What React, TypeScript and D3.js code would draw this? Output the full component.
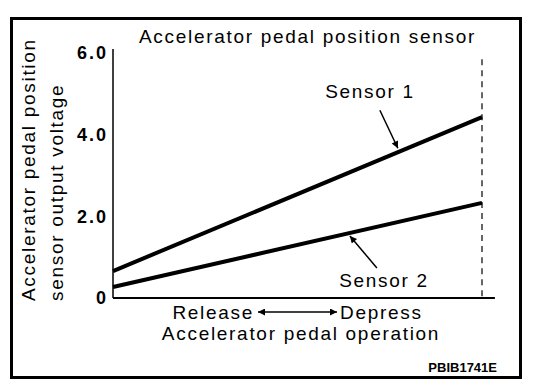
import React from "react";
import * as d3 from "d3";

// pedal travel: 0 = released, 1 = fully depressed
const pedalTravel = [0, 1];
const sensor1Volts = [0.66, 4.43];
const sensor2Volts = [0.27, 2.33];
const yTickValues = [0, 2, 4, 6];
const yTickLabels = ["0", "2.0", "4.0", "6.0"];

const W = 560;
const H = 388;
const FONT = "'Liberation Sans', Arial, Helvetica, sans-serif";

export default function App() {
  const x = d3.scaleLinear().domain([0, 1]).range([113, 482]);
  const y = d3.scaleLinear().domain([0, 6]).range([298, 53]);

  const line = d3
    .line<number>()
    .x((_, i) => x(pedalTravel[i]))
    .y((d) => y(d));

  // point on a series at a given pedal travel
  const at = (vals: number[], t: number) => {
    const v = vals[0] + (vals[1] - vals[0]) * t;
    return [x(t), y(v)];
  };

  const s1tip = at(sensor1Volts, 0.772);
  const s2tip = at(sensor2Volts, 0.642);

  return (
    <svg
      width={W}
      height={H}
      style={{ position: "absolute", left: 0, top: 0, background: "#fff" }}
      fontFamily={FONT}
    >
      <defs>
        <marker
          id="head"
          viewBox="0 0 10 10"
          refX="10"
          refY="5"
          markerWidth="10"
          markerHeight="7"
          markerUnits="userSpaceOnUse"
          orient="auto-start-reverse"
        >
          <path d="M0,0 L10,5 L0,10 z" fill="#000" />
        </marker>
      </defs>

      <rect x={11.5} y={18.5} width={509} height={359} fill="none" stroke="#000" strokeWidth={3} />

      <text x={139} y={43} fontSize={19} letterSpacing={1.7} fill="#000">
        Accelerator pedal position sensor
      </text>

      {/* axes */}
      <line x1={x(0)} x2={x(0)} y1={y(6.1)} y2={y(0)} stroke="#000" strokeWidth={1.5} />
      <line x1={x(0)} x2={x(1.035)} y1={y(0)} y2={y(0)} stroke="#000" strokeWidth={2} />
      <line
        x1={x(1)}
        x2={x(1)}
        y1={y(5.85)}
        y2={y(0)}
        stroke="#000"
        strokeWidth={1.2}
        strokeDasharray="6,5"
      />

      {yTickValues.map((v, i) => (
        <text
          key={v}
          x={108}
          y={y(v)}
          dy="0.36em"
          textAnchor="end"
          fontSize={18}
          fontWeight="bold"
          letterSpacing={2}
        >
          {yTickLabels[i]}
        </text>
      ))}

      <text transform="translate(35,301) rotate(-90)" fontSize={19} letterSpacing={1.7}>
        Accelerator pedal position
      </text>
      <text transform="translate(63,301) rotate(-90)" fontSize={19} letterSpacing={1.7}>
        sensor output voltage
      </text>

      {/* series */}
      <path d={line(sensor1Volts) || ""} fill="none" stroke="#000" strokeWidth={4} />
      <path d={line(sensor2Volts) || ""} fill="none" stroke="#000" strokeWidth={4} />

      {/* callouts */}
      <line
        x1={s1tip[0] - 18}
        y1={s1tip[1] - 42}
        x2={s1tip[0]}
        y2={s1tip[1] - 4}
        stroke="#000"
        strokeWidth={1.5}
        markerEnd="url(#head)"
      />
      <text x={370} y={98} textAnchor="middle" fontSize={19} letterSpacing={1.7}>
        Sensor 1
      </text>
      <line
        x1={s2tip[0] + 27}
        y1={s2tip[1] + 35}
        x2={s2tip[0]}
        y2={s2tip[1] + 3}
        stroke="#000"
        strokeWidth={1.5}
        markerEnd="url(#head)"
      />
      <text x={384} y={287} textAnchor="middle" fontSize={19} letterSpacing={1.7}>
        Sensor 2
      </text>

      {/* x axis description */}
      <text x={254} y={319} textAnchor="end" fontSize={19} letterSpacing={1.7}>
        Release
      </text>
      <line
        x1={258}
        x2={337}
        y1={312}
        y2={312}
        stroke="#000"
        strokeWidth={1.5}
        markerStart="url(#head)"
        markerEnd="url(#head)"
      />
      <text x={340} y={319} fontSize={19} letterSpacing={1.7}>
        Depress
      </text>
      <text x={301} y={340} textAnchor="middle" fontSize={19} letterSpacing={1.7}>
        Accelerator pedal operation
      </text>

      <text x={497} y={372} textAnchor="end" fontSize={13} fontWeight="bold">
        PBIB1741E
      </text>
    </svg>
  );
}
